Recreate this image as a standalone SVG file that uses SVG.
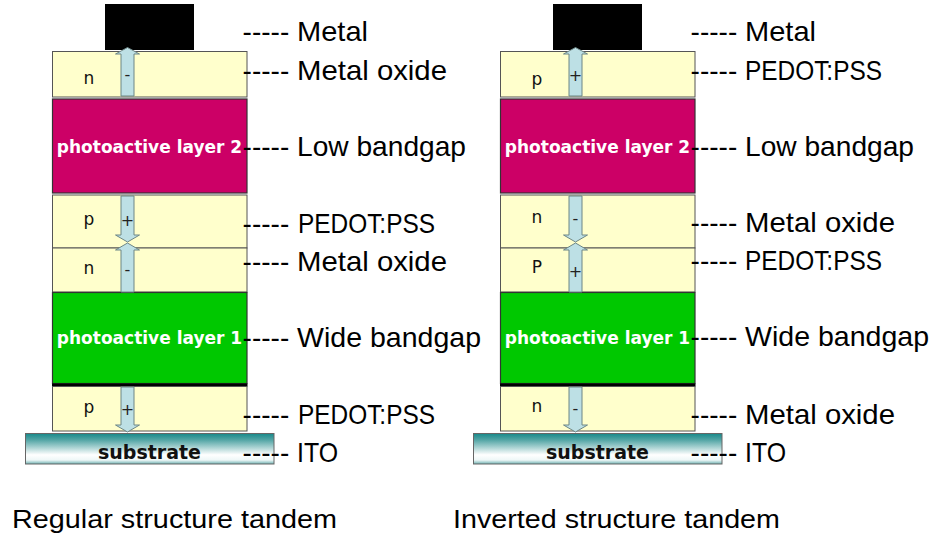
<svg xmlns="http://www.w3.org/2000/svg" width="934" height="546" viewBox="0 0 934 546">
<defs>
<linearGradient id="subGrad" x1="0" y1="0" x2="0" y2="1">
<stop offset="0" stop-color="#17898a"/>
<stop offset="0.2" stop-color="#4fa3a3"/>
<stop offset="0.7" stop-color="#ffffff"/>
<stop offset="0.87" stop-color="#eef7f7"/>
<stop offset="1" stop-color="#6fb2b2"/>
</linearGradient>
</defs>
<style>
.cream{fill:#ffffcc;stroke:#555;stroke-width:1}
.mag{fill:#cc0066;stroke:#333;stroke-width:1.2}
.grn{fill:#00c800;stroke:#333;stroke-width:1.2}
.metal{fill:#000}
.sub{fill:url(#subGrad);stroke:#666;stroke-width:1}
.arr{fill:#bde0e5;stroke:#6d8686;stroke-width:1}
.lbl{font-family:"Liberation Sans",Arial,sans-serif;font-size:28px;fill:#000}
.cap{font-family:"Liberation Sans",Arial,sans-serif;font-size:25px;fill:#000}
.pa{font-family:"DejaVu Sans",Verdana,sans-serif;font-size:17px;font-weight:bold;fill:#fff;text-anchor:middle}
.st{font-family:"DejaVu Sans",Verdana,sans-serif;font-size:19px;font-weight:bold;fill:#111;text-anchor:middle}
.np{font-family:"DejaVu Sans",Verdana,sans-serif;font-size:17px;fill:#111;text-anchor:middle}
.sg{font-family:"DejaVu Sans",Verdana,sans-serif;font-size:16px;fill:#222;text-anchor:middle}
</style>
<rect width="934" height="546" fill="#fff"/>

<!-- Regular structure (left) -->
<g id="left-metal"><rect class="metal" x="105" y="4" width="89" height="46"/></g>
<g id="left-metal-oxide-top"><rect class="cream" x="52.5" y="51.5" width="194.5" height="45.5"/><text class="np" x="89" y="84">n</text></g>
<g id="left-photoactive-2"><rect class="mag" x="52.5" y="99" width="194.5" height="94"/><text class="pa" x="149.5" y="152.5">photoactive layer 2</text></g>
<g id="left-pedot-mid"><rect class="cream" x="52.5" y="195" width="194.5" height="53"/><text class="np" x="89" y="225">p</text></g>
<g id="left-metal-oxide-mid"><rect class="cream" x="52.5" y="248" width="194.5" height="44"/><text class="np" x="89" y="274">n</text></g>
<g id="left-photoactive-1"><rect class="grn" x="52.5" y="292.5" width="194.5" height="91"/><rect x="52" y="383.5" width="195.5" height="3" fill="#000"/><text class="pa" x="149.5" y="343.5">photoactive layer 1</text></g>
<g id="left-pedot-bottom"><rect class="cream" x="52.5" y="386.5" width="194.5" height="44.5"/><text class="np" x="89" y="413">p</text></g>
<g id="left-substrate"><rect class="sub" x="25.5" y="433.5" width="248.5" height="30.5"/><text class="st" x="149.5" y="459">substrate</text></g>

<!-- Inverted structure (right) -->
<g id="right-metal"><rect class="metal" x="553" y="4" width="89" height="46"/></g>
<g id="right-pedot-top"><rect class="cream" x="500.5" y="51.5" width="194.5" height="45.5"/><text class="np" x="537" y="85">p</text></g>
<g id="right-photoactive-2"><rect class="mag" x="500.5" y="99" width="194.5" height="94"/><text class="pa" x="597.5" y="152.5">photoactive layer 2</text></g>
<g id="right-metal-oxide-mid"><rect class="cream" x="500.5" y="195" width="194.5" height="53"/><text class="np" x="537" y="223">n</text></g>
<g id="right-pedot-mid"><rect class="cream" x="500.5" y="248" width="194.5" height="44"/><text class="np" x="537" y="273">P</text></g>
<g id="right-photoactive-1"><rect class="grn" x="500.5" y="292.5" width="194.5" height="91"/><rect x="500" y="383.5" width="195.5" height="3" fill="#000"/><text class="pa" x="597.5" y="343.5">photoactive layer 1</text></g>
<g id="right-metal-oxide-bottom"><rect class="cream" x="500.5" y="386.5" width="194.5" height="44.5"/><text class="np" x="537" y="412">n</text></g>
<g id="right-substrate"><rect class="sub" x="473.5" y="433.5" width="248.5" height="30.5"/><text class="st" x="597.5" y="459">substrate</text></g>

<g id="connectors">
<polygon class="arr" points="121,96 121,54 115.5,54 127.5,47.5 139.5,54 134,54 134,96"/>
<polygon class="arr" points="121,196 134,196 134,235 139.5,235 127.5,242 115.5,235 121,235"/>
<polygon class="arr" points="121,292 121,250 115.5,250 127.5,243 139.5,250 134,250 134,292"/>
<polygon class="arr" points="121,387 134,387 134,425 139.5,425 127.5,432 115.5,425 121,425"/>
<polygon class="arr" points="569,96 569,54 563.5,54 575.5,47.5 587.5,54 582,54 582,96"/>
<polygon class="arr" points="569,196 582,196 582,235 587.5,235 575.5,242 563.5,235 569,235"/>
<polygon class="arr" points="569,292 569,250 563.5,250 575.5,243 587.5,250 582,250 582,292"/>
<polygon class="arr" points="569,387 582,387 582,425 587.5,425 575.5,432 563.5,425 569,425"/>
</g>

<g id="signs">
<text class="sg" x="127.5" y="80">-</text>
<text class="sg" x="127.5" y="226">+</text>
<text class="sg" x="127.5" y="275">-</text>
<text class="sg" x="127.5" y="415">+</text>
<text class="sg" x="575.5" y="81">+</text>
<text class="sg" x="575.5" y="224">-</text>
<text class="sg" x="575.5" y="277">+</text>
<text class="sg" x="575.5" y="414">-</text>
</g>

<g id="labels-left">
<text class="lbl" x="242.6" y="41">----- <tspan x="297" textLength="71" lengthAdjust="spacingAndGlyphs">Metal</tspan></text>
<text class="lbl" x="242.6" y="80">----- <tspan x="297" textLength="150" lengthAdjust="spacingAndGlyphs">Metal oxide</tspan></text>
<text class="lbl" x="242.6" y="156">----- <tspan x="297" textLength="169" lengthAdjust="spacingAndGlyphs">Low bandgap</tspan></text>
<text class="lbl" x="242.6" y="233">----- <tspan x="298" textLength="137" lengthAdjust="spacingAndGlyphs">PEDOT:PSS</tspan></text>
<text class="lbl" x="242.6" y="271">----- <tspan x="297" textLength="150" lengthAdjust="spacingAndGlyphs">Metal oxide</tspan></text>
<text class="lbl" x="242.6" y="347">----- <tspan x="297" textLength="184" lengthAdjust="spacingAndGlyphs">Wide bandgap</tspan></text>
<text class="lbl" x="242.6" y="424">----- <tspan x="298" textLength="137" lengthAdjust="spacingAndGlyphs">PEDOT:PSS</tspan></text>
<text class="lbl" x="242.6" y="462">----- <tspan x="297" textLength="41" lengthAdjust="spacingAndGlyphs">ITO</tspan></text>
</g>
<g id="labels-right">
<text class="lbl" x="690.6" y="41">----- <tspan x="745" textLength="71" lengthAdjust="spacingAndGlyphs">Metal</tspan></text>
<text class="lbl" x="690.6" y="80">----- <tspan x="745" textLength="137" lengthAdjust="spacingAndGlyphs">PEDOT:PSS</tspan></text>
<text class="lbl" x="690.6" y="156">----- <tspan x="745" textLength="169" lengthAdjust="spacingAndGlyphs">Low bandgap</tspan></text>
<text class="lbl" x="690.6" y="232">----- <tspan x="745" textLength="150" lengthAdjust="spacingAndGlyphs">Metal oxide</tspan></text>
<text class="lbl" x="690.6" y="270">----- <tspan x="745" textLength="137" lengthAdjust="spacingAndGlyphs">PEDOT:PSS</tspan></text>
<text class="lbl" x="690.6" y="346">----- <tspan x="745" textLength="184" lengthAdjust="spacingAndGlyphs">Wide bandgap</tspan></text>
<text class="lbl" x="690.6" y="424">----- <tspan x="745" textLength="150" lengthAdjust="spacingAndGlyphs">Metal oxide</tspan></text>
<text class="lbl" x="690.6" y="462">----- <tspan x="745" textLength="41" lengthAdjust="spacingAndGlyphs">ITO</tspan></text>
</g>

<g id="captions">
<text class="cap" x="12" y="528" textLength="325" lengthAdjust="spacingAndGlyphs">Regular structure tandem</text>
<text class="cap" x="453" y="528" textLength="327" lengthAdjust="spacingAndGlyphs">Inverted structure tandem</text>
</g>
</svg>
